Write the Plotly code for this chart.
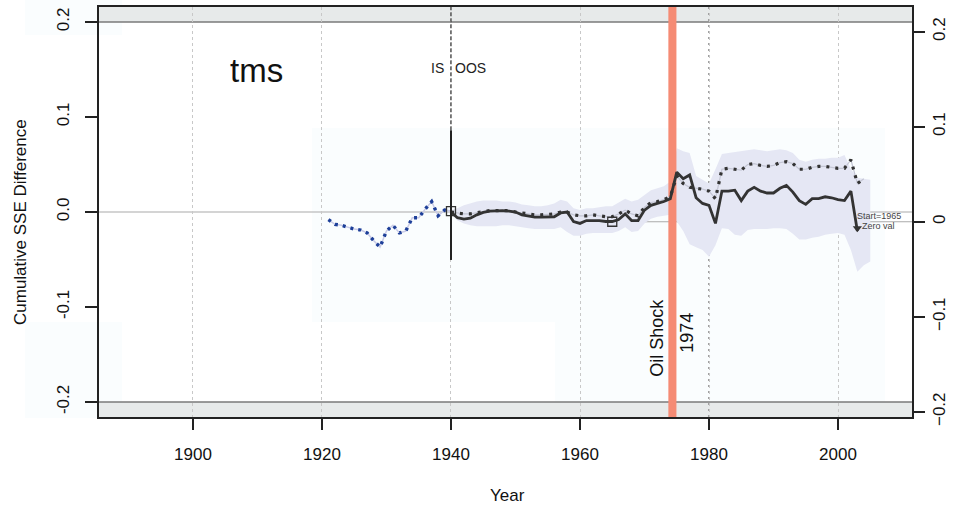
import plotly.graph_objects as go

# ---------------- data ----------------
is_years = list(range(1921, 1941))
is_vals = [-0.008, -0.013, -0.014, -0.016, -0.018, -0.019, -0.022, -0.030, -0.037, -0.020,
           -0.014, -0.022, -0.020, -0.006, -0.006, 0.003, 0.011, -0.004, 0.002, 0.001]

oos_years = list(range(1940, 2004))
solid_vals = [0.000, -0.006, -0.0075, -0.0065, -0.003, -0.0005, 0.001, 0.0015, 0.0015, 0.001,
              0.000, -0.003, -0.0045, -0.0055, -0.0055, -0.005, -0.005, -0.001, 0.000, -0.010,
              -0.012, -0.009, -0.009, -0.009, -0.010, -0.010, -0.008, -0.002, -0.009, -0.009,
              0.002, 0.007, 0.009, 0.011, 0.014, 0.042, 0.035, 0.039, 0.015, 0.009,
              0.007, -0.012, 0.022, 0.022, 0.023, 0.012, 0.022, 0.026, 0.022, 0.020,
              0.020, 0.025, 0.028, 0.021, 0.012, 0.008, 0.014, 0.014, 0.016, 0.015,
              0.013, 0.012, 0.022, -0.020]

dot_years = list(range(1940, 2005))
dotted_vals = [0.000, -0.001, -0.002, -0.002, -0.001, 0.000, 0.0015, 0.0015, 0.0015, 0.0015,
               0.000, -0.001, -0.002, -0.003, -0.003, -0.0025, -0.002, 0.000, 0.000, -0.003,
               -0.004, -0.004, -0.003, -0.004, -0.005, -0.005, -0.002, 0.002, -0.002, -0.004,
               0.005, 0.010, 0.011, 0.013, 0.016, 0.038, 0.030, 0.026, 0.025, 0.024,
               0.022, 0.014, 0.045, 0.046, 0.045, 0.044, 0.050, 0.051, 0.049, 0.048,
               0.049, 0.052, 0.053, 0.051, 0.045, 0.045, 0.047, 0.048, 0.048, 0.047,
               0.046, 0.046, 0.055, 0.030, 0.035]

band_years = list(range(1940, 2006))
band_hi = [0.002, 0.004, 0.007, 0.009, 0.011, 0.012, 0.012, 0.012, 0.011, 0.011,
           0.010, 0.008, 0.007, 0.006, 0.006, 0.007, 0.009, 0.013, 0.011, 0.004,
           0.002, 0.004, 0.004, 0.005, 0.006, 0.006, 0.010, 0.014, 0.011, 0.013,
           0.018, 0.023, 0.025, 0.027, 0.032, 0.067, 0.064, 0.062, 0.038, 0.034,
           0.030, 0.045, 0.061, 0.062, 0.063, 0.064, 0.065, 0.066, 0.065, 0.064,
           0.065, 0.066, 0.065, 0.062, 0.055, 0.053, 0.055, 0.056, 0.056, 0.057,
           0.057, 0.060, 0.045, 0.036, 0.035, 0.034]
band_lo = [-0.002, -0.009, -0.012, -0.014, -0.015, -0.015, -0.015, -0.015, -0.014, -0.014,
           -0.015, -0.016, -0.017, -0.018, -0.018, -0.018, -0.018, -0.016, -0.021, -0.025,
           -0.025, -0.023, -0.022, -0.022, -0.022, -0.022, -0.020, -0.016, -0.021, -0.020,
           -0.012, -0.007, -0.005, -0.004, -0.003, -0.010, -0.020, -0.034, -0.037, -0.040,
           -0.047, -0.035, -0.017, -0.018, -0.024, -0.025, -0.019, -0.018, -0.018, -0.018,
           -0.017, -0.017, -0.018, -0.023, -0.029, -0.029, -0.027, -0.026, -0.024, -0.023,
           -0.022, -0.024, -0.040, -0.063, -0.056, -0.052]

x_ticks = [1900, 1920, 1940, 1960, 1980, 2000]
y_ticks = [-0.2, -0.1, 0.0, 0.1, 0.2]
y_left_text = ["-0.2", "-0.1", "0.0", "0.1", "0.2"]
y_right_text = ["\u22120.2", "\u22120.1", "0", "0.1", "0.2"]

split_year = 1940
start_year = 1965
shock_year = 1974

# ---------------- layout constants ----------------
XR = [1885.43, 2011.47]
YR = [-0.2158, 0.2158]
Y2R = [-0.2055, 0.2260]
FONT = "Liberation Sans, Arial, Helvetica, sans-serif"
DARK = "#333333"


def y2_to_y(v):
    return YR[0] + (v - Y2R[0]) / (Y2R[1] - Y2R[0]) * (YR[1] - YR[0])


fig = go.Figure()

# confidence band
fig.add_trace(go.Scatter(x=band_years + band_years[::-1], y=band_hi + band_lo[::-1],
                         fill="toself", fillcolor="#e5e7f4", line=dict(width=0),
                         mode="lines", hoverinfo="skip"))

# oil shock bar
fig.add_trace(go.Scatter(x=[shock_year - 0.3, shock_year + 0.95, shock_year + 0.95, shock_year - 0.3],
                         y=[YR[0], YR[0], YR[1], YR[1]], fill="toself",
                         fillcolor="#f58b74", line=dict(width=0), mode="lines", hoverinfo="skip"))

# in-sample series
fig.add_trace(go.Scatter(x=is_years, y=is_vals, mode="lines",
                         line=dict(color="#c9cbe7", width=1.5)))
fig.add_trace(go.Scatter(x=is_years, y=is_vals, mode="lines",
                         line=dict(color="#1d3f99", width=3.4, dash="3px,5px")))

# dotted series
fig.add_trace(go.Scatter(x=dot_years, y=dotted_vals, mode="lines",
                         line=dict(color="#c4c6d4", width=1.2)))
fig.add_trace(go.Scatter(x=dot_years, y=dotted_vals, mode="lines",
                         line=dict(color=DARK, width=3.2, dash="3px,6px")))

# solid series
fig.add_trace(go.Scatter(x=oos_years, y=solid_vals, mode="lines",
                         line=dict(color=DARK, width=2.8)))

# markers
fig.add_trace(go.Scatter(x=[split_year], y=[0.001], mode="markers",
                         marker=dict(symbol="square-open", size=9, color=DARK, line=dict(width=1.3))))
fig.add_trace(go.Scatter(x=[start_year], y=[y2_to_y(0.0)], mode="markers",
                         marker=dict(symbol="square-open", size=9, color=DARK, line=dict(width=1.3))))
fig.add_trace(go.Scatter(x=[oos_years[-1]], y=[solid_vals[-1] + 0.003], mode="markers",
                         marker=dict(symbol="triangle-down", size=8, color=DARK)))
# invisible trace to activate the right axis
fig.add_trace(go.Scatter(x=[XR[0]], y=[0], yaxis="y2", mode="markers",
                         marker=dict(size=1, opacity=0), hoverinfo="skip"))

shapes = []


def px_x(p):
    return (p - 99) / 813.0


def px_y(p):
    return (417 - p) / 410.0


# faint background boxes
for (a, b, c, d) in [(25, 122, 0, 35), (25, 122, 322, 418), (312, 885, 128, 322), (555, 885, 322, 402)]:
    shapes.append(dict(type="rect", xref="paper", yref="paper", x0=px_x(a), x1=px_x(b),
                       y0=px_y(d), y1=px_y(c), fillcolor="#fafdfe", line=dict(width=0), layer="below"))
# gray bands beyond +-0.2
shapes.append(dict(type="rect", xref="paper", yref="y", x0=0, x1=1, y0=0.2, y1=YR[1],
                   fillcolor="#e7eaea", line=dict(width=0), layer="below"))
shapes.append(dict(type="rect", xref="paper", yref="y", x0=0, x1=1, y0=YR[0], y1=-0.2,
                   fillcolor="#e7eaea", line=dict(width=0), layer="below"))
shapes.append(dict(type="line", xref="paper", yref="y", x0=0, x1=1, y0=0.2, y1=0.2,
                   line=dict(color="#7a7a7a", width=1.5), layer="between"))
shapes.append(dict(type="line", xref="paper", yref="y", x0=0, x1=1, y0=-0.2, y1=-0.2,
                   line=dict(color="#7a7a7a", width=1.5), layer="between"))
# zero lines
shapes.append(dict(type="line", xref="paper", yref="y", x0=0, x1=1, y0=0, y1=0,
                   line=dict(color="#aaaaaa", width=1.2), layer="between"))
shapes.append(dict(type="line", xref="x", yref="y", x0=start_year, x1=XR[1],
                   y0=y2_to_y(0.0), y1=y2_to_y(0.0),
                   line=dict(color="#aaaaaa", width=1.2), layer="between"))
# darker dotted at 1980
shapes.append(dict(type="line", xref="x", yref="paper", x0=1980, x1=1980, y0=0, y1=1,
                   line=dict(color="#a0a0a0", width=2, dash="2px,4px"), layer="between"))
# IS / OOS split
shapes.append(dict(type="line", xref="x", yref="y", x0=split_year, x1=split_year, y0=0.086, y1=YR[1],
                   line=dict(color="#444444", width=1.3, dash="4px,2px"), layer="above"))
shapes.append(dict(type="line", xref="x", yref="y", x0=split_year, x1=split_year, y0=-0.0505, y1=0.086,
                   line=dict(color="#222222", width=2), layer="above"))

annotations = [
    dict(x=1909.9, y=0.149, text="tms", showarrow=False, font=dict(size=33, color="#111")),
    dict(x=1937.9, y=0.1516, text="IS", showarrow=False, font=dict(size=14, color="#222")),
    dict(x=1943.1, y=0.1516, text="OOS", showarrow=False, font=dict(size=14, color="#222")),
    dict(x=1971.9, y=-0.1326, text="Oil Shock", textangle=-90, showarrow=False,
         font=dict(size=18, color="#111")),
    dict(x=1976.6, y=-0.127, text="1974", textangle=-90, showarrow=False,
         font=dict(size=18, color="#111")),
    dict(x=2006.3, y=-0.0042, text="Start=1965", showarrow=False, font=dict(size=9, color="#444")),
    dict(x=2006.3, y=-0.0147, text="Zero val", showarrow=False, font=dict(size=9, color="#444")),
    dict(xref="paper", yref="paper", x=px_x(20), y=px_y(222), xanchor="center", yanchor="middle",
         text="Cumulative SSE Difference", textangle=-90, showarrow=False,
         font=dict(size=17, color="#111")),
    dict(xref="paper", yref="paper", x=px_x(507), y=px_y(495), xanchor="center", yanchor="middle",
         text="Year", showarrow=False, font=dict(size=17, color="#111")),
]

fig.update_layout(
    width=955, height=514,
    margin=dict(l=99, r=43, t=7, b=97),
    paper_bgcolor="white", plot_bgcolor="white",
    showlegend=False,
    font=dict(family=FONT, color="#111"),
    shapes=shapes, annotations=annotations,
    xaxis=dict(range=XR, tickvals=x_ticks, ticks="outside", ticklen=11, tickwidth=1.5,
               tickcolor="#222", showline=True, linecolor="#222", linewidth=1.5, mirror=True,
               showgrid=True, gridcolor="#c8c8c8", griddash="dot", gridwidth=1,
               zeroline=False, tickfont=dict(size=17), ticklabelstandoff=10, automargin=False),
    yaxis=dict(range=YR, tickvals=y_ticks, ticktext=y_left_text, ticks="outside", ticklen=12,
               tickwidth=1.5, tickcolor="#222", showline=True, linecolor="#222", linewidth=1.5,
               mirror=True, showgrid=False, zeroline=False, tickangle=-90,
               tickfont=dict(size=17), ticklabelstandoff=9, automargin=False),
    yaxis2=dict(range=Y2R, tickvals=y_ticks, ticktext=y_right_text, overlaying="y", side="right",
                ticks="outside", ticklen=12, tickwidth=1.5, tickcolor="#222", showline=False,
                showgrid=False, zeroline=False, tickangle=-90, tickfont=dict(size=17),
                automargin=False),
)

fig.write_html("out.html", config={"displayModeBar": False},
               post_script="document.body.style.margin='0';")
